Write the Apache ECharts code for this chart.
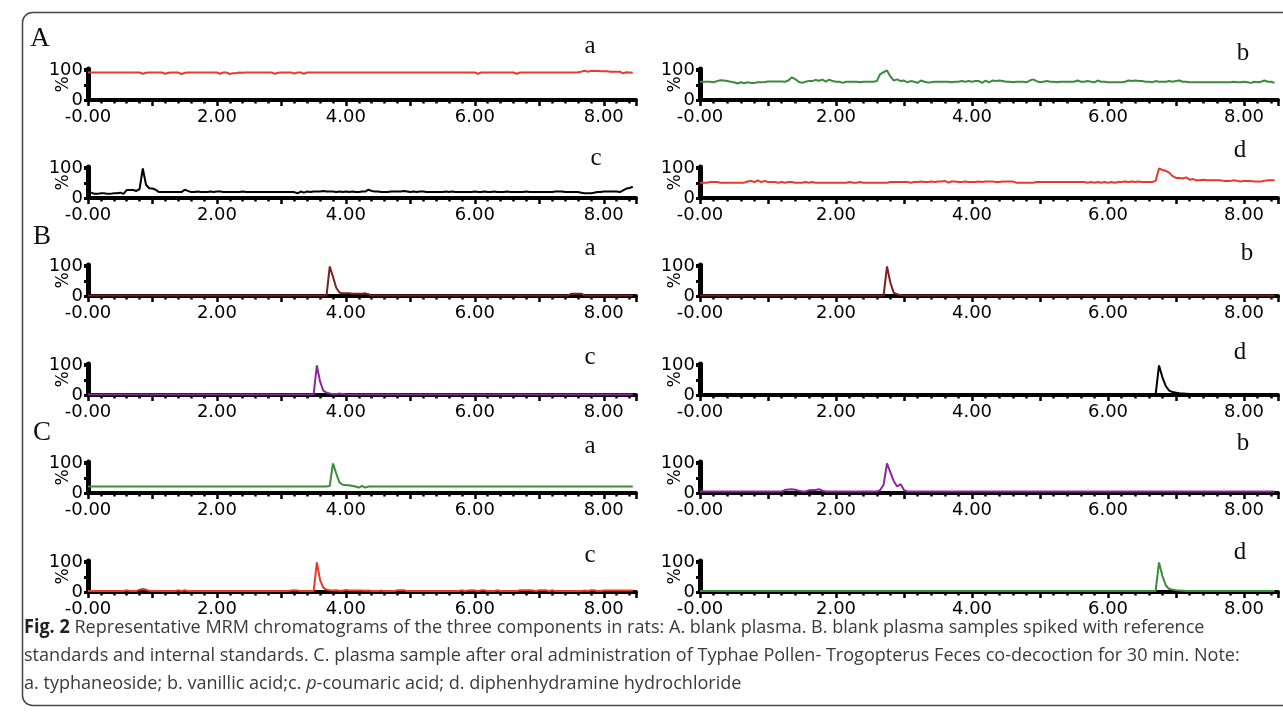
<!DOCTYPE html>
<html><head><meta charset="utf-8">
<script src="https://cdn.jsdelivr.net/npm/echarts@6/dist/echarts.min.js"></script>
<style>html,body{margin:0;padding:0;background:#fff}#c{width:1283px;height:714px}</style>
</head><body><div id="c"></div><script>
// sampling interval of every trace (min)
const sampleStep = 0.05;
const xTickLabels = ['-0.00', '2.00', '4.00', '6.00', '8.00'];
const yTickLabels = ['0', '100'];

// A. blank plasma
const A_a = [
93,93,93,93,93,93,93,93,93,93,93,93,93,93,93,93,93,89,92,93,
93,93,93,93,89,92,93,93,93,88,92,93,93,93,93,93,93,93,93,93,
93,89,93,93,88,91,91,93,92,93,93,93,93,93,93,93,93,93,89,92,
93,93,93,93,90,93,93,89,93,93,93,93,93,93,93,93,93,93,93,93,
93,93,93,93,93,93,93,93,93,93,93,93,93,93,93,93,93,93,93,93,
93,93,93,93,93,93,93,93,93,93,93,93,93,93,93,93,93,93,93,93,
93,89,93,93,93,93,93,93,93,93,93,93,93,89,93,93,93,93,93,93,
93,93,93,93,93,93,93,93,93,93,93,93,94,96,99,96,98,98,98,97,
97,97,96,96,96,96,90,94,93,92];
const A_b = [
62,62,62,62,60,64,67,66,64,62,60,56,60,57,60,58,58,60,60,61,
63,63,63,63,63,62,66,77,71,62,58,62,64,64,68,65,69,62,69,64,
62,62,58,62,62,62,62,60,62,62,62,62,64,88,94,100,80,66,70,64,
66,60,64,62,58,66,62,59,60,62,62,62,62,62,60,62,62,64,62,64,
62,64,64,58,66,60,66,64,66,64,62,62,60,62,62,62,60,66,70,64,
60,62,64,62,62,60,62,62,62,62,62,66,62,62,64,62,60,66,62,62,
60,60,60,60,60,62,66,64,66,64,64,62,62,60,64,62,62,62,64,62,
64,66,62,62,60,60,60,60,60,60,60,60,60,60,60,60,60,62,60,60,
62,60,58,62,60,62,66,62,62,58];
const A_c = [
18,18,14,14,16,16,14,14,16,16,18,14,27,27,27,24,30,100,45,33,
32,28,20,20,20,20,20,20,20,20,28,24,20,20,22,20,20,20,22,20,
22,22,20,20,20,20,20,20,22,20,20,20,20,20,20,20,20,20,20,20,
20,20,20,20,20,16,22,18,22,20,22,22,22,24,22,22,22,20,22,20,
22,20,22,20,20,22,22,28,24,22,22,20,20,20,22,22,22,22,24,22,
20,22,20,22,22,20,20,20,20,20,20,22,20,22,20,20,20,20,20,20,
22,20,20,22,20,20,22,20,20,20,22,20,20,20,20,20,22,20,20,20,
20,20,20,20,20,22,22,22,20,20,20,20,20,18,16,16,16,18,20,20,
22,22,22,22,22,20,26,32,34,38];
const A_d = [
52,52,52,54,54,54,52,52,52,52,52,52,52,52,56,58,54,60,54,58,
54,54,54,52,54,52,54,54,52,52,52,54,52,54,52,52,52,52,52,52,
52,52,52,52,54,52,52,54,52,52,52,52,52,52,52,52,54,54,54,54,
54,54,52,54,54,56,54,54,56,54,56,56,58,52,56,56,54,54,56,54,
54,54,56,54,56,56,56,54,54,56,56,56,56,52,52,52,52,52,52,54,
54,54,54,54,54,54,54,54,54,54,54,54,54,54,52,54,52,54,52,54,
52,54,52,54,54,56,54,56,54,56,54,54,54,54,58,100,95,92,86,74,
68,68,66,70,62,64,60,60,62,60,60,60,60,60,58,58,58,60,58,56,
58,58,58,56,56,56,58,60,60,60];

// B. blank plasma spiked with standards
const B_a = [
2,2,2,2,2,2,2,2,2,2,2,2,2,2,2,2,2,2,2,2,
2,2,2,2,2,2,2,2,2,2,2,2,2,2,2,2,2,2,2,2,
2,2,2,2,2,2,2,2,2,2,2,2,2,2,2,2,2,2,2,2,
2,2,2,2,2,2,2,2,2,2,2,2,2,2,2,100,65,28,12,9,
9,9,8,8,8,8,9,6,2,2,2,2,2,2,2,2,2,2,2,2,
2,2,2,2,2,2,2,2,2,2,2,2,2,2,2,2,2,2,2,2,
2,2,2,2,2,2,2,2,2,2,2,2,2,2,2,2,2,2,2,2,
2,2,2,2,2,2,2,2,2,2,8,8,8,8,2,2,2,2,2,2,
2,2,2,2,2,2,2,2,2,2];
const B_b = [
2,2,2,2,2,2,2,2,2,2,2,2,2,2,2,2,2,2,2,2,
2,2,2,2,2,2,2,2,2,2,2,2,2,2,2,2,2,2,2,2,
2,2,2,2,2,2,2,2,2,2,2,2,2,2,2,100,45,10,6,3,
2,2,2,2,2,2,2,2,2,2,2,2,2,2,2,2,2,2,2,2,
2,2,2,2,2,2,2,2,2,2,2,2,2,2,2,2,2,2,2,2,
2,2,2,2,2,2,2,2,2,2,2,2,2,2,2,2,2,2,2,2,
2,2,2,2,2,2,2,2,2,2,2,2,2,2,2,2,2,2,2,2,
2,2,2,2,2,2,2,2,2,2,2,2,2,2,2,2,2,2,2,2,
2,2,2,2,2,2,2,2,2,2];
const B_c = [
2,2,2,2,2,2,2,2,2,2,2,2,2,2,2,2,2,2,2,2,
2,2,2,2,2,2,2,2,2,2,2,2,2,2,2,2,2,2,2,2,
2,2,2,2,2,2,2,2,2,2,2,2,2,2,2,2,2,2,2,2,
2,2,2,2,2,2,2,2,2,2,3,100,45,15,8,5,3,3,5,3,
2,2,2,2,2,2,2,2,2,2,2,2,2,2,2,2,2,2,2,2,
2,2,2,2,2,2,2,2,2,2,2,2,2,2,2,2,2,2,2,2,
2,2,2,2,2,2,2,2,2,2,2,2,2,2,2,2,2,2,2,2,
2,2,2,2,2,2,2,2,2,2,2,2,2,2,2,2,2,2,2,2,
2,2,2,2,2,2,2,2,2,2];
const B_d = [
1,1,1,1,1,1,1,1,1,1,1,1,1,1,1,1,1,1,1,1,
1,1,1,1,1,1,1,1,1,1,1,1,1,1,1,1,1,1,1,1,
1,1,1,1,1,1,1,1,1,1,1,1,1,1,1,1,1,1,1,1,
1,1,1,1,1,1,1,1,1,1,1,1,1,1,1,1,1,1,1,1,
1,1,1,1,1,1,1,1,1,1,1,1,1,1,1,1,1,1,1,1,
1,1,1,1,1,1,1,1,1,1,1,1,1,1,1,1,1,1,1,1,
1,1,1,1,1,1,1,1,1,1,1,1,1,1,1,100,60,30,15,10,
8,6,5,4,3,2,1,1,1,1,1,1,1,1,1,1,1,1,1,1,
1,1,1,1,1,1,1,1,1,1];

// C. plasma sample after oral administration
const C_a = [
22,22,22,22,22,22,22,22,22,22,22,22,22,22,22,22,22,22,22,22,
22,22,22,22,22,22,22,22,22,22,22,22,22,22,22,22,22,22,22,22,
22,22,22,22,22,22,22,22,22,22,22,22,22,22,22,22,22,22,22,22,
22,22,22,22,22,22,22,22,22,22,22,22,22,22,22,24,100,66,36,28,
26,26,24,22,18,24,18,22,22,22,22,22,22,22,22,22,22,22,22,22,
22,22,22,22,22,22,22,22,22,22,22,22,22,22,22,22,22,22,22,22,
22,22,22,22,22,22,22,22,22,22,22,22,22,22,22,22,22,22,22,22,
22,22,22,22,22,22,22,22,22,22,22,22,22,22,22,22,22,22,22,22,
22,22,22,22,22,22,22,22,22,22];
const C_b = [
5,5,5,5,5,5,5,5,5,5,5,5,5,5,5,5,5,5,5,5,
5,5,5,5,5,10,12,13,11,8,5,5,9,10,10,13,8,5,5,5,
5,5,5,5,5,5,5,5,5,5,5,5,5,10,28,100,70,40,22,30,
10,5,5,5,5,5,5,5,5,5,5,5,5,5,5,5,5,5,5,5,
5,5,5,5,5,5,5,5,5,5,5,5,5,5,5,5,5,5,5,5,
5,5,5,5,5,5,5,5,5,5,5,5,5,5,5,5,5,5,5,5,
5,5,5,5,5,5,5,5,5,5,5,5,5,5,5,5,5,5,5,5,
5,5,5,5,5,5,5,5,5,5,5,5,5,5,5,5,5,5,5,5,
5,5,5,5,5,5,5,5,5,5];
const C_c = [
3,3,3,3,3,3,3,3,3,3,3,3,6,3,3,3,8,10,8,4,
3,3,3,3,3,3,3,3,6,3,6,3,3,3,3,3,3,3,3,3,
3,3,3,3,3,3,3,3,3,3,3,3,3,3,3,3,3,3,3,3,
3,3,3,5,6,5,3,3,3,3,3,100,40,15,8,6,5,6,4,4,
7,5,5,5,5,5,4,5,3,3,3,5,3,3,3,3,6,6,6,3,
3,3,3,3,3,3,3,3,3,3,3,3,3,3,3,3,6,3,5,6,
5,3,6,6,3,3,3,6,3,3,3,3,3,3,6,6,6,6,5,3,
6,6,6,3,6,3,3,3,3,3,3,3,3,3,5,3,6,6,3,3,
5,5,5,5,5,5,5,5,5,5];
const C_d = [
3,3,3,3,3,3,3,3,3,3,3,3,3,3,3,3,3,3,3,3,
3,3,3,3,3,3,3,3,3,3,3,3,3,3,3,3,3,3,3,3,
3,3,3,3,3,3,3,3,3,3,3,3,3,3,3,3,3,3,3,3,
3,3,3,3,3,3,3,3,3,3,3,3,3,3,3,3,3,3,3,3,
3,3,3,3,3,3,3,3,3,3,3,3,3,3,3,3,3,3,3,3,
3,3,3,3,3,3,3,3,3,3,3,3,3,3,3,3,3,3,3,3,
3,3,3,3,3,3,3,3,3,3,3,3,3,3,3,100,55,22,10,8,
6,5,4,3,3,3,3,3,3,3,3,3,3,3,3,3,3,3,3,3,
3,3,3,3,3,3,3,3,3,3];

const RED = '#e8392b', GREEN = '#3a8b3a', BLACK = '#000000', MAROON = '#7b1f1f', PURPLE = '#8a2a9a';
const panels = [
  {data: A_a, color: RED,    col: 0, row: 0, tag: 'a', tx: 590, ty: 46},
  {data: A_b, color: GREEN,  col: 1, row: 0, tag: 'b', tx: 1243, ty: 53},
  {data: A_c, color: BLACK,  col: 0, row: 1, tag: 'c', tx: 596, ty: 158},
  {data: A_d, color: RED,    col: 1, row: 1, tag: 'd', tx: 1240, ty: 150},
  {data: B_a, color: MAROON, col: 0, row: 2, tag: 'a', tx: 590, ty: 248},
  {data: B_b, color: MAROON, col: 1, row: 2, tag: 'b', tx: 1247, ty: 253},
  {data: B_c, color: PURPLE, col: 0, row: 3, tag: 'c', tx: 590, ty: 357},
  {data: B_d, color: BLACK,  col: 1, row: 3, tag: 'd', tx: 1240, ty: 352},
  {data: C_a, color: GREEN,  col: 0, row: 4, tag: 'a', tx: 590, ty: 446},
  {data: C_b, color: PURPLE, col: 1, row: 4, tag: 'b', tx: 1243, ty: 443},
  {data: C_c, color: RED,    col: 0, row: 5, tag: 'c', tx: 590, ty: 555},
  {data: C_d, color: GREEN,  col: 1, row: 5, tag: 'd', tx: 1240, ty: 552}
];

const colLeft = [88, 700], colWidth = [548, 578];
const rowBottom = [100, 198, 296, 395, 493, 592];
const plotH = 31;
const tickFont = {fontFamily: 'DejaVu Sans', fontSize: 18, color: '#000'};

const grids = [], xAxes = [], yAxes = [], series = [], graphics = [];
panels.forEach((p, i) => {
  grids.push({left: colLeft[p.col], width: colWidth[p.col], top: rowBottom[p.row] - plotH, height: plotH});
  xAxes.push({
    type: 'value', gridIndex: i, min: 0, max: 8.5, interval: 1,
    axisLine: {show: true, lineStyle: {color: '#000', width: 4}},
    axisTick: {show: true, length: 6, lineStyle: {color: '#000', width: 2.5}},
    minorTick: {show: true, splitNumber: 5, length: 3.5, lineStyle: {color: '#000', width: 2.5}},
    splitLine: {show: false}, minorSplitLine: {show: false},
    axisLabel: Object.assign({margin: 8, formatter: v => {
      const k = Math.round(v * 100) / 100;
      return (k % 2 === 0 && k <= 8) ? xTickLabels[k / 2] : '';
    }}, tickFont)
  });
  yAxes.push({
    type: 'value', gridIndex: i, min: 0, max: 105, interval: 50,
    axisLine: {show: true, lineStyle: {color: '#000', width: 5}},
    axisTick: {show: true, length: 4, lineStyle: {color: '#000', width: 3}},
    splitLine: {show: false},
    axisLabel: Object.assign({margin: 5, formatter: v => v === 0 ? yTickLabels[0] : (v === 100 ? yTickLabels[1] : '')}, tickFont),
    name: '%', nameLocation: 'middle', nameRotate: 90, nameGap: 16, nameMoveOverlap: false,
    nameTextStyle: {fontFamily: 'DejaVu Sans', fontSize: 17, color: '#000'}
  });
  series.push({
    type: 'line', xAxisIndex: i, yAxisIndex: i,
    data: p.data.map((v, k) => [+(k * sampleStep).toFixed(2), v]),
    showSymbol: false, symbol: 'none', silent: true,
    lineStyle: {color: p.color, width: 2}, itemStyle: {color: p.color}, z: 3
  });
  graphics.push({type: 'text', x: p.tx, y: p.ty, style: {text: p.tag, fontFamily: 'Liberation Serif', fontSize: 25, fill: '#111', align: 'center', verticalAlign: 'middle'}});
});

const groupLetters = [{t: 'A', x: 40, y: 39}, {t: 'B', x: 42, y: 237}, {t: 'C', x: 42, y: 433}];
groupLetters.forEach(g => graphics.push({type: 'text', x: g.x, y: g.y, style: {text: g.t, fontFamily: 'Liberation Serif', fontSize: 27, fill: '#111', align: 'center', verticalAlign: 'middle'}}));

graphics.push({type: 'rect', shape: {x: 22.5, y: 12.5, width: 1300, height: 693, r: 10}, style: {fill: 'none', stroke: '#444', lineWidth: 1.5}, z: -1});

const captionLines = [
  '{b|Fig. 2} Representative MRM chromatograms of the three components in rats: A. blank plasma. B. blank plasma samples spiked with reference',
  'standards and internal standards. C. plasma sample after oral administration of Typhae Pollen- Trogopterus Feces co-decoction for 30 min. Note:',
  'a. typhaneoside; b. vanillic acid;c. {i|p}-coumaric acid; d. diphenhydramine hydrochloride'
];
const capY = [628, 656, 684];
captionLines.forEach((t, k) => graphics.push({
  type: 'text', x: 24, y: capY[k], scaleX: 0.95,
  style: {text: t, fontFamily: 'Open Sans', fontSize: 19, fill: '#3a3a3a', verticalAlign: 'middle',
    rich: {b: {fontFamily: 'Open Sans', fontWeight: 'bold', fontSize: 19, fill: '#222'}, i: {fontFamily: 'Open Sans', fontStyle: 'italic', fontSize: 19, fill: '#3a3a3a'}}}
}));

const chart = echarts.init(document.getElementById('c'), null, {renderer: 'canvas'});
chart.setOption({
  animation: false, backgroundColor: '#fff',
  grid: grids, xAxis: xAxes, yAxis: yAxes, series: series, graphic: graphics
});
</script></body></html>
